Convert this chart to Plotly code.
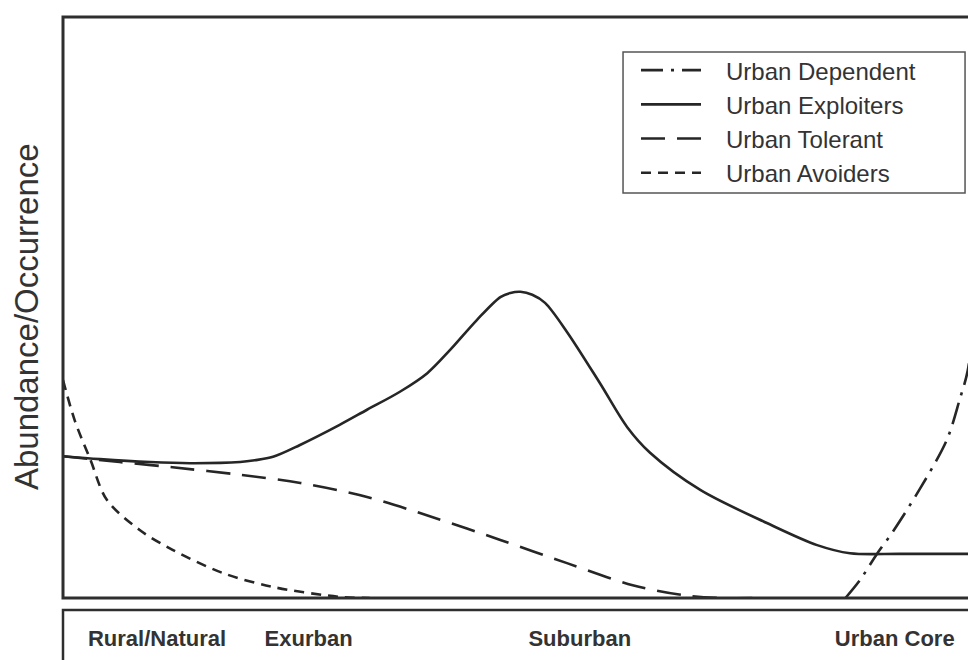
import plotly.graph_objects as go

# Gradient position (0 = rural edge, 100 = urban core edge) and relative abundance
exploiters_x = [0, 4.05, 9.53, 13.9, 19.4, 21.0, 23.0, 25.9, 30.3, 33.3, 36.9, 39.9, 42.4, 45.3, 47.9, 49.0,
                50.1, 51.4, 52.8, 55.2, 58.8, 61.8, 64.3, 69.8, 77.1, 82.6, 86.2, 91.7, 100]
exploiters_y = [24.4, 23.9, 23.4, 23.2, 23.4, 23.7, 24.3, 26.3, 29.8, 32.4, 35.5, 38.7, 42.7, 47.8, 51.8, 52.5,
                52.7, 52.2, 50.8, 45.8, 37.0, 29.4, 25.0, 18.6, 12.9, 9.1, 7.7, 7.6, 7.6]

tolerant_x = [0, 6.2, 12.0, 19.4, 26.0, 33.3, 40.5, 47.9, 55.2, 62.4, 67.9, 72.0, 76.3]
tolerant_y = [24.4, 23.4, 22.5, 21.2, 19.8, 17.4, 13.9, 10.0, 6.0, 2.2, 0.5, 0.0, 0.0]

avoiders_x = [0, 1.3, 3.0, 4.8, 8.4, 12.0, 17.5, 23.0, 30.3, 33.6]
avoiders_y = [37.5, 30.5, 23.8, 16.9, 11.7, 8.3, 4.3, 1.9, 0.2, 0.0]

dependent_x = [85.7, 87.3, 89.2, 90.8, 93.9, 96.8, 98.2, 99.1, 100, 100.4]
dependent_y = [0.0, 3.1, 7.7, 11.2, 18.9, 27.2, 34.1, 39.2, 51.3, 58.2]

series_names = ["Urban Dependent", "Urban Exploiters", "Urban Tolerant", "Urban Avoiders"]

zone_labels = ["Rural/Natural", "Exurban", "Suburban", "Urban Core"]
zone_positions = [10.3, 26.9, 56.6, 91.1]

y_title = "Abundance/Occurrence"

LINE = "#262626"
TEXT = "#333333"
PAD = "\u00a0\u00a0\u00a0"

series = [
    (dependent_x, dependent_y, "22px,8px,3px,8px"),
    (exploiters_x, exploiters_y, "solid"),
    (tolerant_x, tolerant_y, "24px,12px"),
    (avoiders_x, avoiders_y, "10px,7px"),
]

fig = go.Figure()
for name, (xs, ys, dash) in zip(series_names, series):
    fig.add_trace(go.Scatter(x=xs, y=ys, mode="lines", name=PAD + name,
                             line=dict(color=LINE, width=2.6, dash=dash, shape="spline", smoothing=0.9)))

fig.update_layout(
    width=968, height=652,
    margin=dict(l=55, r=0, t=9, b=62),
    paper_bgcolor="white", plot_bgcolor="white",
    font=dict(family="Liberation Sans, Arial, sans-serif", color=TEXT),
    showlegend=True,
    legend=dict(x=0.6276, y=0.9466, xanchor="left", yanchor="top",
                bgcolor="rgba(0,0,0,0)", borderwidth=0,
                font=dict(size=24, color=TEXT), itemwidth=60,
                tracegroupgap=0),
    xaxis=dict(range=[0, 100], showgrid=False, zeroline=False, showline=False,
               tickvals=zone_positions, ticktext=zone_labels, ticks="",
               ticklabelstandoff=25,
               tickfont=dict(size=22, weight="bold", color=TEXT)),
    yaxis=dict(range=[0, 100], showgrid=False, zeroline=False, showline=False,
               showticklabels=False, ticks=""),
    shapes=[
        dict(type="rect", xref="paper", yref="paper", x0=0, y0=0, x1=1.05, y1=1,
             line=dict(color="#2e2e2e", width=3), layer="above"),
        dict(type="rect", xref="paper", yref="paper", x0=0, y0=-0.0207, x1=1.05, y1=-0.3,
             line=dict(color="#2e2e2e", width=2.5)),
        dict(type="rect", xref="paper", yref="paper", x0=0.6134, y0=0.697, x1=0.988, y1=0.9398,
             line=dict(color="#555555", width=1.5)),
    ],
    annotations=[
        dict(text=y_title, xref="paper", yref="paper", x=-0.0405, y=0.4836,
             textangle=-90, showarrow=False, xanchor="center", yanchor="middle",
             font=dict(size=33, color=TEXT)),
    ],
)

fig.write_html("out.html")
